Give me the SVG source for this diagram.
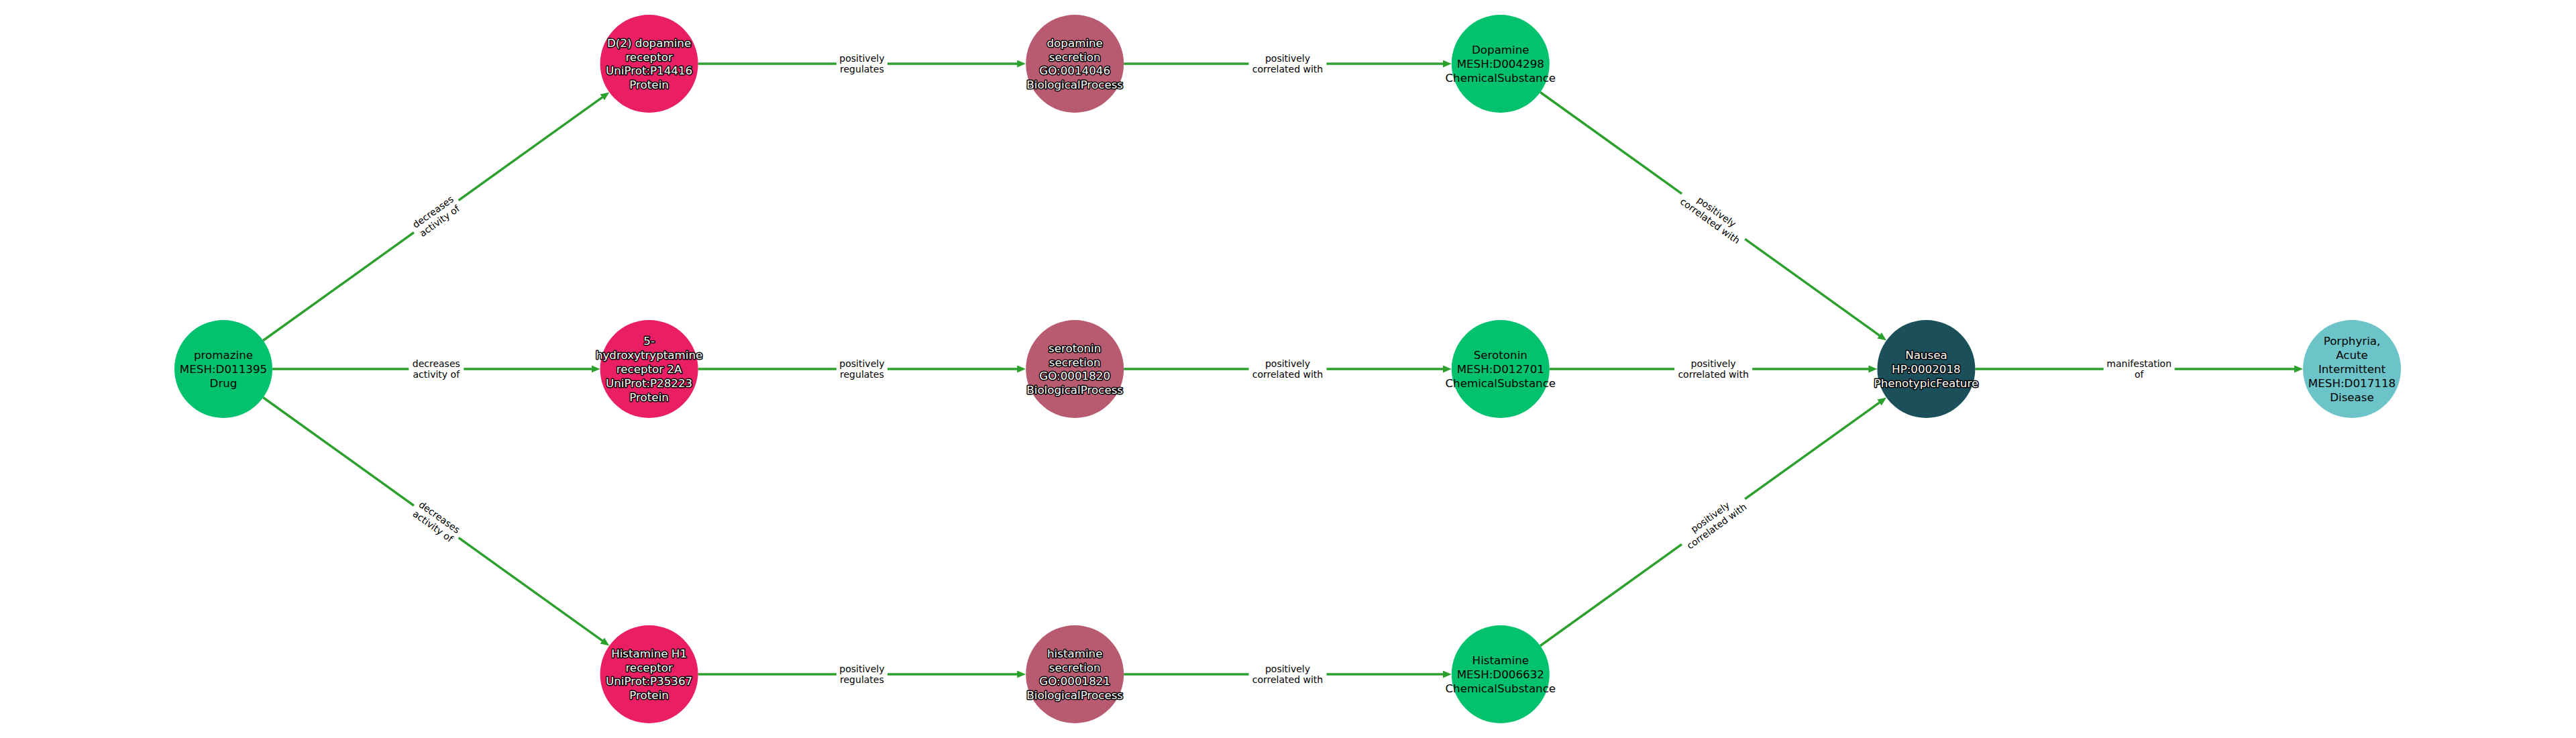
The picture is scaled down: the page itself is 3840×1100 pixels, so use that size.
<svg xmlns="http://www.w3.org/2000/svg" width="3840" height="1100" viewBox="0 0 3840 1100">
<style>
.edge{stroke:#2CA02C;stroke-width:3.5;fill:none}
.lbg{fill:#ffffff}
.lt{font-family:"DejaVu Sans","Liberation Sans",sans-serif;font-size:14px;fill:#000;text-anchor:middle;dominant-baseline:central}
.nt{font-family:"DejaVu Sans","Liberation Sans",sans-serif;font-size:16.7px;text-anchor:middle;dominant-baseline:central}
.dark{fill:#000}
.halo{fill:#fff;stroke:#000;stroke-width:3;paint-order:stroke;stroke-linejoin:round}
.drug{fill:#02C26E}
.prot{fill:#E91E63}
.bp{fill:#B85B70}
.pf{fill:#1B4F5A}
.dis{fill:#6CC4C8}
</style>
<defs>
<marker id="ah" markerUnits="userSpaceOnUse" markerWidth="13" markerHeight="11" refX="3" refY="5.5" orient="auto" viewBox="0 0 13 11">
<path d="M0,0 L13,5.5 L0,11 z" fill="#2CA02C"/>
</marker>
</defs>
<rect width="3840" height="1100" fill="#ffffff"/>
<g id="edges">
<line class="edge" x1="392.3" y1="507.5" x2="900.2" y2="143.3" marker-end="url(#ah)"/>
<line class="edge" x1="406" y1="550" x2="884.6" y2="550" marker-end="url(#ah)"/>
<line class="edge" x1="392.3" y1="592.5" x2="900.2" y2="956.7" marker-end="url(#ah)"/>
<line class="edge" x1="1040.6" y1="95" x2="1519.2" y2="95" marker-end="url(#ah)"/>
<line class="edge" x1="1040.6" y1="550" x2="1519.2" y2="550" marker-end="url(#ah)"/>
<line class="edge" x1="1040.6" y1="1005" x2="1519.2" y2="1005" marker-end="url(#ah)"/>
<line class="edge" x1="1675.2" y1="95" x2="2153.8" y2="95" marker-end="url(#ah)"/>
<line class="edge" x1="1675.2" y1="550" x2="2153.8" y2="550" marker-end="url(#ah)"/>
<line class="edge" x1="1675.2" y1="1005" x2="2153.8" y2="1005" marker-end="url(#ah)"/>
<line class="edge" x1="2296.1" y1="137.5" x2="2804" y2="501.7" marker-end="url(#ah)"/>
<line class="edge" x1="2309.8" y1="550" x2="2788.4" y2="550" marker-end="url(#ah)"/>
<line class="edge" x1="2296.1" y1="962.5" x2="2804" y2="598.3" marker-end="url(#ah)"/>
<line class="edge" x1="2944.4" y1="550" x2="3423" y2="550" marker-end="url(#ah)"/>
<g id="edge-labels">
<g transform="translate(650.3,322.5) rotate(-35.64)"><rect class="lbg" x="-41" y="-21" width="82" height="42"/><text class="lt" y="-8.3">decreases</text><text class="lt" y="8.3">activity of</text></g>
<g transform="translate(650.3,550)"><rect class="lbg" x="-41" y="-21" width="82" height="42"/><text class="lt" y="-8.3">decreases</text><text class="lt" y="8.3">activity of</text></g>
<g transform="translate(650.3,777.5) rotate(35.64)"><rect class="lbg" x="-41" y="-21" width="82" height="42"/><text class="lt" y="-8.3">decreases</text><text class="lt" y="8.3">activity of</text></g>
<g transform="translate(1284.9,95)"><rect class="lbg" x="-38" y="-21" width="76" height="42"/><text class="lt" y="-8.3">positively</text><text class="lt" y="8.3">regulates</text></g>
<g transform="translate(1284.9,550)"><rect class="lbg" x="-38" y="-21" width="76" height="42"/><text class="lt" y="-8.3">positively</text><text class="lt" y="8.3">regulates</text></g>
<g transform="translate(1284.9,1005)"><rect class="lbg" x="-38" y="-21" width="76" height="42"/><text class="lt" y="-8.3">positively</text><text class="lt" y="8.3">regulates</text></g>
<g transform="translate(1919.5,95)"><rect class="lbg" x="-58" y="-21" width="116" height="42"/><text class="lt" y="-8.3">positively</text><text class="lt" y="8.3">correlated with</text></g>
<g transform="translate(1919.5,550)"><rect class="lbg" x="-58" y="-21" width="116" height="42"/><text class="lt" y="-8.3">positively</text><text class="lt" y="8.3">correlated with</text></g>
<g transform="translate(1919.5,1005)"><rect class="lbg" x="-58" y="-21" width="116" height="42"/><text class="lt" y="-8.3">positively</text><text class="lt" y="8.3">correlated with</text></g>
<g transform="translate(2554.1,322.5) rotate(35.64)"><rect class="lbg" x="-58" y="-21" width="116" height="42"/><text class="lt" y="-8.3">positively</text><text class="lt" y="8.3">correlated with</text></g>
<g transform="translate(2554.1,550)"><rect class="lbg" x="-58" y="-21" width="116" height="42"/><text class="lt" y="-8.3">positively</text><text class="lt" y="8.3">correlated with</text></g>
<g transform="translate(2554.1,777.5) rotate(-35.64)"><rect class="lbg" x="-58" y="-21" width="116" height="42"/><text class="lt" y="-8.3">positively</text><text class="lt" y="8.3">correlated with</text></g>
<g transform="translate(3188.7,550)"><rect class="lbg" x="-53" y="-21" width="106" height="42"/><text class="lt" y="-8.3">manifestation</text><text class="lt" y="8.3">of</text></g>
</g>
</g>
<g id="n-promazine"><circle class="drug" cx="333" cy="550" r="73"/><text class="nt dark" x="333" y="529.2">promazine</text><text class="nt dark" x="333" y="550">MESH:D011395</text><text class="nt dark" x="333" y="570.8">Drug</text></g>
<g id="n-drd2"><circle class="prot" cx="967.6" cy="95" r="73"/><text class="nt halo" x="967.6" y="63.8">D(2) dopamine</text><text class="nt halo" x="967.6" y="84.6">receptor</text><text class="nt halo" x="967.6" y="105.4">UniProt:P14416</text><text class="nt halo" x="967.6" y="126.2">Protein</text></g>
<g id="n-htr2a"><circle class="prot" cx="967.6" cy="550" r="73"/><text class="nt halo" x="967.6" y="508.4">5-</text><text class="nt halo" x="967.6" y="529.2">hydroxytryptamine</text><text class="nt halo" x="967.6" y="550">receptor 2A</text><text class="nt halo" x="967.6" y="570.8">UniProt:P28223</text><text class="nt halo" x="967.6" y="591.6">Protein</text></g>
<g id="n-hrh1"><circle class="prot" cx="967.6" cy="1005" r="73"/><text class="nt halo" x="967.6" y="973.8">Histamine H1</text><text class="nt halo" x="967.6" y="994.6">receptor</text><text class="nt halo" x="967.6" y="1015.4">UniProt:P35367</text><text class="nt halo" x="967.6" y="1036.2">Protein</text></g>
<g id="n-dasec"><circle class="bp" cx="1602.2" cy="95" r="73"/><text class="nt halo" x="1602.2" y="63.8">dopamine</text><text class="nt halo" x="1602.2" y="84.6">secretion</text><text class="nt halo" x="1602.2" y="105.4">GO:0014046</text><text class="nt halo" x="1602.2" y="126.2">BiologicalProcess</text></g>
<g id="n-5htsec"><circle class="bp" cx="1602.2" cy="550" r="73"/><text class="nt halo" x="1602.2" y="518.8">serotonin</text><text class="nt halo" x="1602.2" y="539.6">secretion</text><text class="nt halo" x="1602.2" y="560.4">GO:0001820</text><text class="nt halo" x="1602.2" y="581.2">BiologicalProcess</text></g>
<g id="n-hisec"><circle class="bp" cx="1602.2" cy="1005" r="73"/><text class="nt halo" x="1602.2" y="973.8">histamine</text><text class="nt halo" x="1602.2" y="994.6">secretion</text><text class="nt halo" x="1602.2" y="1015.4">GO:0001821</text><text class="nt halo" x="1602.2" y="1036.2">BiologicalProcess</text></g>
<g id="n-dopamine"><circle class="drug" cx="2236.8" cy="95" r="73"/><text class="nt dark" x="2236.8" y="74.2">Dopamine</text><text class="nt dark" x="2236.8" y="95">MESH:D004298</text><text class="nt dark" x="2236.8" y="115.8">ChemicalSubstance</text></g>
<g id="n-serotonin"><circle class="drug" cx="2236.8" cy="550" r="73"/><text class="nt dark" x="2236.8" y="529.2">Serotonin</text><text class="nt dark" x="2236.8" y="550">MESH:D012701</text><text class="nt dark" x="2236.8" y="570.8">ChemicalSubstance</text></g>
<g id="n-histamine"><circle class="drug" cx="2236.8" cy="1005" r="73"/><text class="nt dark" x="2236.8" y="984.2">Histamine</text><text class="nt dark" x="2236.8" y="1005">MESH:D006632</text><text class="nt dark" x="2236.8" y="1025.8">ChemicalSubstance</text></g>
<g id="n-nausea"><circle class="pf" cx="2871.4" cy="550" r="73"/><text class="nt halo" x="2871.4" y="529.2">Nausea</text><text class="nt halo" x="2871.4" y="550">HP:0002018</text><text class="nt halo" x="2871.4" y="570.8">PhenotypicFeature</text></g>
<g id="n-porphyria"><circle class="dis" cx="3506" cy="550" r="73"/><text class="nt dark" x="3506" y="508.4">Porphyria,</text><text class="nt dark" x="3506" y="529.2">Acute</text><text class="nt dark" x="3506" y="550">Intermittent</text><text class="nt dark" x="3506" y="570.8">MESH:D017118</text><text class="nt dark" x="3506" y="591.6">Disease</text></g>
</svg>
